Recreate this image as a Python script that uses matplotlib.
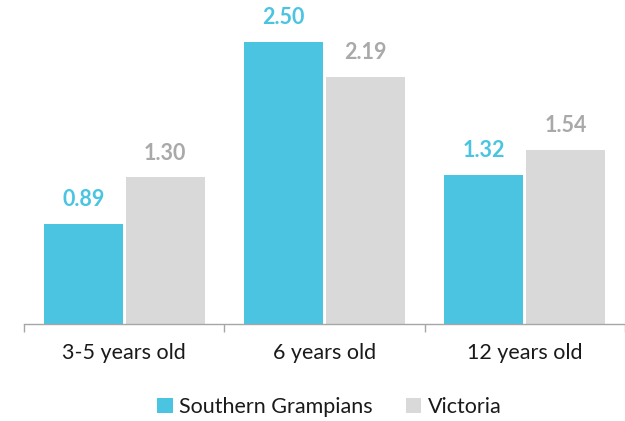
import numpy as np
import matplotlib.pyplot as plt

categories = ['3-5 years old', '6 years old', '12 years old']
southern_grampians = [0.89, 2.50, 1.32]
victoria = [1.30, 2.19, 1.54]

BLUE = '#4BC4E2'
GREY = '#D9D9D9'
GREY_TXT = '#A9A9A9'

plt.rcParams['font.family'] = ['Lato', 'DejaVu Sans']

fig = plt.figure(figsize=(6.25, 4.21), dpi=100)
ax = fig.add_axes([24 / 625, 97 / 421, 601 / 625, 324 / 421])

x = np.arange(len(categories))
w = 0.394
b1 = ax.bar(x - 0.204, southern_grampians, w, color=BLUE, label='Southern Grampians')
b2 = ax.bar(x + 0.204, victoria, w, color=GREY, label='Victoria')

for bars, vals, col in [(b1, southern_grampians, BLUE), (b2, victoria, GREY_TXT)]:
    for r, v in zip(bars, vals):
        ax.annotate(f'{v:.2f}', (r.get_x() + r.get_width() / 2, v),
                    xytext=(0, 17.5), textcoords='offset points',
                    ha='center', va='center', fontsize=15.5,
                    fontweight='bold', color=col)

ax.set_xlim(-0.5, 2.5)
ax.set_ylim(0, 2.872)
ax.set_yticks([])
for s in ['top', 'right', 'left']:
    ax.spines[s].set_visible(False)
ax.spines['bottom'].set_color('#A6A6A6')
ax.spines['bottom'].set_linewidth(1.0)

# ticks at category boundaries, labels in the middle
ax.set_xticks([-0.5, 0.5, 1.5, 2.5])
ax.set_xticklabels([])
ax.tick_params(axis='x', which='major', length=6, color='#A6A6A6', width=1.0)
ax.set_xticks(x, minor=True)
ax.set_xticklabels(categories, minor=True, fontsize=15.5, color='#1a1a1a')
ax.tick_params(axis='x', which='minor', length=0, pad=14)

fig.legend(loc='center', bbox_to_anchor=(0.527, 0.034), ncol=2, frameon=False,
           fontsize=15.5, handlelength=0.7, handleheight=0.7, handletextpad=0.3,
           columnspacing=1.55, labelcolor='#1a1a1a')

fig.savefig('out.png', dpi=100)
